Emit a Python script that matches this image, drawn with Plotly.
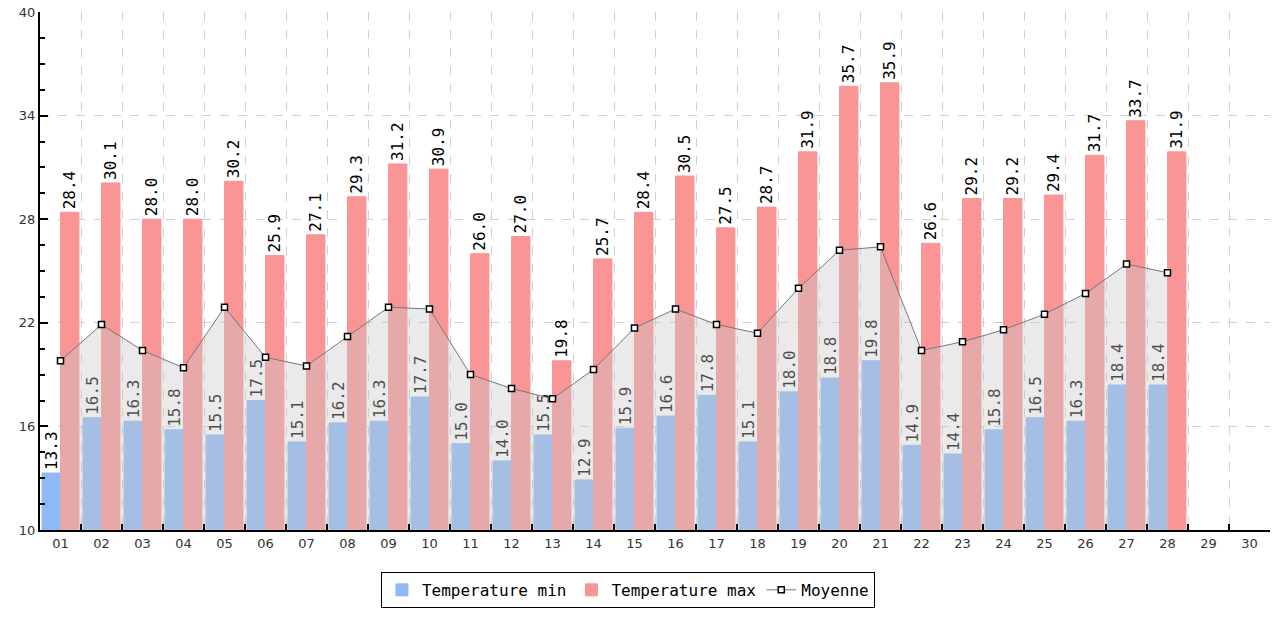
import plotly.graph_objects as go

days = ["01", "02", "03", "04", "05", "06", "07", "08", "09", "10",
        "11", "12", "13", "14", "15", "16", "17", "18", "19", "20",
        "21", "22", "23", "24", "25", "26", "27", "28", "29", "30"]

temp_min = [13.3, 16.5, 16.3, 15.8, 15.5, 17.5, 15.1, 16.2, 16.3, 17.7,
            15.0, 14.0, 15.5, 12.9, 15.9, 16.6, 17.8, 15.1, 18.0, 18.8,
            19.8, 14.9, 14.4, 15.8, 16.5, 16.3, 18.4, 18.4, None, None]

temp_max = [28.4, 30.1, 28.0, 28.0, 30.2, 25.9, 27.1, 29.3, 31.2, 30.9,
            26.0, 27.0, 19.8, 25.7, 28.4, 30.5, 27.5, 28.7, 31.9, 35.7,
            35.9, 26.6, 29.2, 29.2, 29.4, 31.7, 33.7, 31.9, None, None]

moyenne = [19.8, 21.9, 20.4, 19.4, 22.9, 20.0, 19.5, 21.2, 22.9, 22.8,
           19.0, 18.2, 17.6, 19.3, 21.7, 22.8, 21.9, 21.4, 24.0, 26.2,
           26.4, 20.4, 20.9, 21.6, 22.5, 23.7, 25.4, 24.9, None, None]

y_ticks = [10, 16, 22, 28, 34, 40]

MONO = "DejaVu Sans Mono"


def labels(vals):
    return [f"{v:.1f}" if v is not None else "" for v in vals]


fig = go.Figure()

fig.add_trace(go.Bar(
    x=days, y=temp_min, name="Temperature min",
    marker=dict(color="#8fb8f6", line=dict(width=1, color="#8fb8f6")),
    text=labels(temp_min), textposition="outside", textangle=-90,
    textfont=dict(family=MONO, size=16, color="#000000"),
    cliponaxis=False, constraintext="none",
))
fig.add_trace(go.Bar(
    x=days, y=temp_max, name="Temperature max",
    marker=dict(color="#f99595", line=dict(width=1, color="#f99595")),
    text=labels(temp_max), textposition="outside", textangle=-90,
    textfont=dict(family=MONO, size=16, color="#000000"),
    cliponaxis=False, constraintext="none",
))
# fill area of the average
fig.add_trace(go.Scatter(
    x=days, y=moyenne, mode="lines", fill="tozeroy",
    fillcolor="rgba(200,200,200,0.38)", line=dict(width=0),
    showlegend=False, hoverinfo="skip",
))
fig.add_trace(go.Scatter(
    x=days, y=moyenne, mode="lines+markers", name="Moyenne",
    line=dict(color="#777777", width=1),
    marker=dict(symbol="square", size=6, color="white",
                line=dict(color="#000000", width=1.5)),
))

fig.update_layout(
    width=1276, height=621,
    margin=dict(l=40, r=6, t=12, b=91),
    paper_bgcolor="white", plot_bgcolor="white",
    barmode="group", bargap=0.1, bargroupgap=0,
    font=dict(family="DejaVu Sans", size=13, color="#333333"),
    showlegend=True,
    legend=dict(
        orientation="h", x=0.478, xanchor="center", y=-0.081, yanchor="top",
        bordercolor="#000000", borderwidth=1, bgcolor="white",
        font=dict(family=MONO, size=16, color="#000000"),
        traceorder="normal", itemwidth=30,
    ),
    xaxis=dict(
        type="category", range=[-0.5, 29.5], tickson="boundaries",
        showgrid=True, gridcolor="#d0d0d0", griddash="dash", gridwidth=1,
        showline=True, linecolor="#000000", linewidth=2,
        ticks="inside", ticklen=6, tickcolor="#000000", tickwidth=2,
        tickfont=dict(family="DejaVu Sans", size=13, color="#333333"),
        zeroline=False, mirror=False,
    ),
    yaxis=dict(
        range=[10, 40], tickvals=y_ticks,
        showgrid=True, gridcolor="#d0d0d0", griddash="dash", gridwidth=1,
        showline=True, linecolor="#000000", linewidth=2,
        ticks="inside", ticklen=8, tickcolor="#000000", tickwidth=2,
        minor=dict(dtick=1.5, tick0=10, ticks="inside", ticklen=5,
                   tickcolor="#000000", tickwidth=1.5, showgrid=False),
        tickfont=dict(family="DejaVu Sans", size=13, color="#333333"),
        ticklabeloverflow="allow",
        zeroline=False,
    ),
)

fig.write_html(
    "out.html",
    config={"displayModeBar": False},
    post_script="document.body.style.margin='0';document.body.style.overflow='hidden';",
)
